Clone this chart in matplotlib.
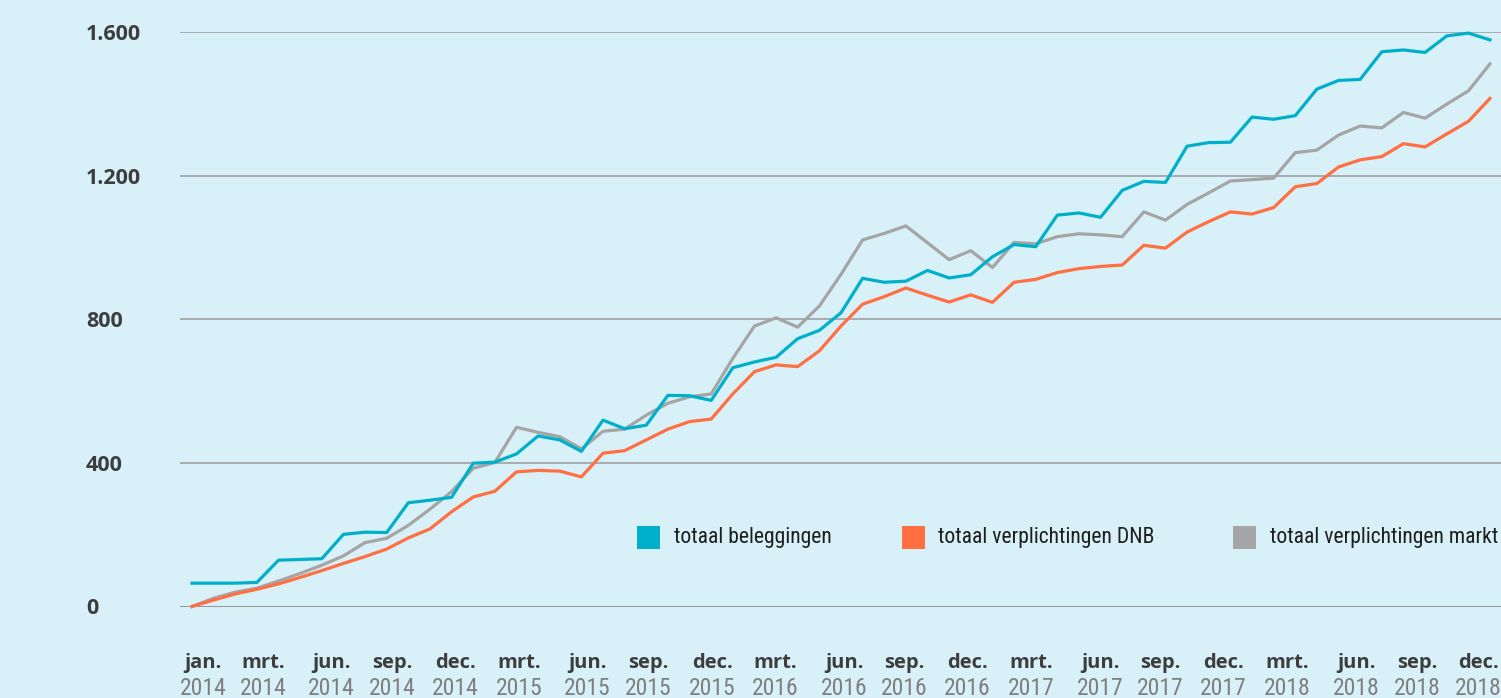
import matplotlib
matplotlib.use("Agg")
import matplotlib.pyplot as plt
from matplotlib import font_manager
from matplotlib.patches import Rectangle
from matplotlib.transforms import blended_transform_factory

# monthly points, dec 2013 .. dec 2018 (in mln euro)
months = list(range(61))
beleggingen = [65, 65, 65, 67, 129, 131, 133, 201, 207, 206,
               289, 296, 304, 399, 402, 425, 475, 464, 432, 519,
               495, 505, 588, 587, 574, 665, 681, 694, 746, 769,
               818, 914, 903, 906, 936, 915, 924, 974, 1008, 1002,
               1090, 1096, 1084, 1159, 1184, 1181, 1282, 1292, 1293, 1363,
               1357, 1367, 1441, 1465, 1468, 1545, 1550, 1543, 1589, 1597,
               1578]
verpl_dnb = [0, 18, 35, 48, 63, 81, 100, 120, 139, 160,
             191, 216, 264, 305, 321, 375, 379, 377, 361, 427,
             434, 464, 494, 515, 522, 592, 654, 673, 668, 712,
             781, 842, 863, 887, 867, 848, 868, 847, 903, 911,
             930, 941, 947, 951, 1006, 998, 1043, 1072, 1099, 1093,
             1111, 1169, 1178, 1224, 1244, 1253, 1289, 1280, 1316, 1351,
             1415]
verpl_markt = [0, 23, 40, 51, 71, 92, 115, 141, 178, 190,
               226, 271, 320, 385, 401, 499, 485, 473, 439, 488,
               494, 533, 566, 584, 592, 691, 781, 804, 778, 837,
               925, 1021, 1039, 1060, 1013, 966, 991, 944, 1014, 1010,
               1030, 1038, 1035, 1030, 1099, 1076, 1120, 1152, 1185, 1189,
               1193, 1264, 1271, 1313, 1338, 1333, 1376, 1360, 1399, 1436,
               1511]

series_labels = ["totaal beleggingen", "totaal verplichtingen DNB", "totaal verplichtingen markt"]
tick_months = ["jan.", "mrt.", "jun.", "sep.", "dec.", "mrt.", "jun.", "sep.", "dec.",
               "mrt.", "jun.", "sep.", "dec.", "mrt.", "jun.", "sep.", "dec.",
               "mrt.", "jun.", "sep.", "dec."]
tick_years = ["2014", "2014", "2014", "2014", "2014", "2015", "2015", "2015", "2015",
              "2016", "2016", "2016", "2016", "2017", "2017", "2017", "2017",
              "2018", "2018", "2018", "2018"]
# label centres as placed in the original (month index units)
tick_pos = [0.51, 3.28, 6.45, 9.25, 12.16, 15.12, 18.28, 21.08, 24.04,
            26.95, 30.14, 32.92, 35.83, 38.79, 41.98, 44.75, 47.67,
            50.62, 53.81, 56.63, 59.45]
y_ticks = [0, 400, 800, 1200, 1600]
y_ticklabels = ["0", "400", "800", "1.200", "1.600"]

BG = "#d8f0f7"
C_BLUE = "#00b0cb"
C_ORANGE = "#ff6f42"
C_GRAY = "#a5a5a5"

installed = {f.name for f in font_manager.fontManager.ttflist}


def pick(*names):
    for n in names:
        if n in installed:
            return n
    return "DejaVu Sans"


NARROW = pick("Liberation Sans Narrow", "Roboto Condensed", "Open Sans Condensed")
narrow_scale = 1.0
if NARROW == "DejaVu Sans":
    NARROW = pick("Liberation Sans", "Roboto")
    narrow_scale = 0.82
BOLD = pick("Open Sans", "Lato", "Roboto")

W, H = 1501, 698
fig = plt.figure(figsize=(W / 100, H / 100), dpi=100, facecolor=BG)
ax = fig.add_axes([180 / W, (H - 606.5) / H, 1 - 180 / W, (606.5 - 32) / H])
ax.set_facecolor(BG)

ax.plot(months, verpl_markt, color=C_GRAY, lw=2.3, zorder=3, clip_on=False)
ax.plot(months, verpl_dnb, color=C_ORANGE, lw=2.3, zorder=4, clip_on=False)
ax.plot(months, beleggingen, color=C_BLUE, lw=2.3, zorder=5, clip_on=False)

ax.set_xlim(-0.555, 60.51)
ax.set_ylim(0, 1600)
for s in ax.spines.values():
    s.set_visible(False)
ax.set_yticks(y_ticks)
ax.set_yticklabels(y_ticklabels, fontfamily=BOLD, fontweight="bold",
                   fontsize=15.5, color="#3d3d3d")
# labels are left-aligned at x = 86 px in the original
ax.tick_params(axis="y", length=0, pad=(180 - 86) * 0.72)
for t in ax.get_yticklabels():
    t.set_horizontalalignment("left")
ax.set_xticks([])
for v in y_ticks:
    ax.axhline(v, color="#808080" if v == 0 else "#9a9a9a", lw=1.1, zorder=1)

trans = blended_transform_factory(ax.transData, ax.transAxes)
for p, m, yr in zip(tick_pos, tick_months, tick_years):
    ax.text(p, -0.098, m, transform=trans, ha="center", va="center",
            fontfamily=BOLD, fontweight="bold", fontsize=14.5, color="#3d3d3d")
    ax.text(p, -0.143, yr, transform=trans, ha="center", va="center",
            fontfamily=NARROW, fontsize=17 * narrow_scale, color="#7f7f7f")

# legend, laid out as in the original
for (sq_x, tx_x), lab, col in zip([(637, 674), (902, 938), (1233, 1270)],
                                  series_labels, [C_BLUE, C_ORANGE, C_GRAY]):
    fig.add_artist(Rectangle((sq_x / W, (H - 549) / H), 23 / W, 23 / H,
                             transform=fig.transFigure, color=col, lw=0))
    fig.text(tx_x / W, (H - 538) / H, lab, ha="left", va="center",
             fontfamily=NARROW, fontsize=15.6 * narrow_scale, color="#1e1e1e")

fig.savefig("out.png", dpi=100, facecolor=BG)
